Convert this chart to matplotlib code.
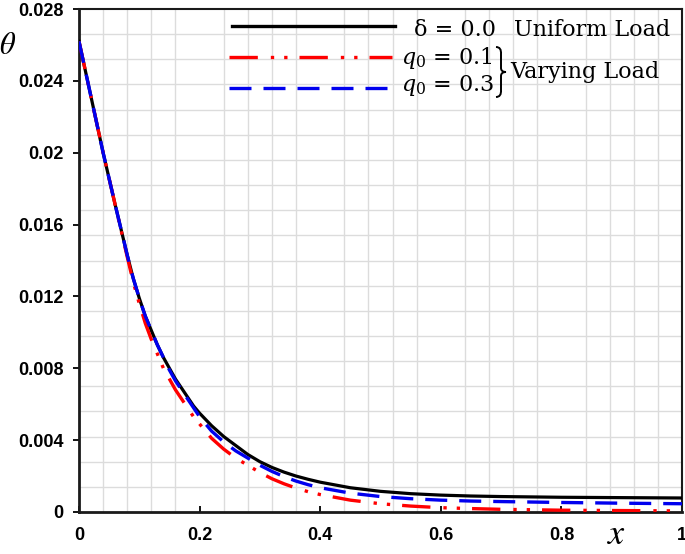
import matplotlib
matplotlib.use("Agg")
import matplotlib.pyplot as plt
from matplotlib.ticker import MultipleLocator, FixedLocator, FixedFormatter
from matplotlib.path import Path
from matplotlib.patches import PathPatch

# ---- data ----
x = [0, 0.02, 0.04, 0.06, 0.08, 0.09, 0.10, 0.11, 0.12, 0.13, 0.14, 0.15,
     0.16, 0.17, 0.18, 0.19, 0.20, 0.22, 0.24, 0.26, 0.28, 0.30, 0.32, 0.34,
     0.36, 0.38, 0.40, 0.45, 0.50, 0.55, 0.60, 0.65, 0.70, 0.80, 0.90, 1.00]
theta_uniform = [0.0262, 0.0231, 0.0200, 0.0171, 0.0143, 0.0130, 0.0119, 0.0109,
                 0.0101, 0.0093, 0.0086, 0.0080, 0.0074, 0.0069, 0.0064, 0.0059,
                 0.0055, 0.0048, 0.0042, 0.0037, 0.0032, 0.0028, 0.00248, 0.00222,
                 0.00200, 0.00182, 0.00166, 0.00135, 0.00115, 0.00102, 0.00094,
                 0.00089, 0.00086, 0.00082, 0.00080, 0.00078]
theta_q01 = [0.0262, 0.0231, 0.0200, 0.0171, 0.0142, 0.0128, 0.0116, 0.0105,
             0.0096, 0.0088, 0.0080, 0.0074, 0.0068, 0.0063, 0.0058, 0.0053,
             0.0049, 0.0041, 0.0035, 0.0030, 0.0026, 0.0022, 0.00185, 0.00157,
             0.00133, 0.00113, 0.00097, 0.00066, 0.00046, 0.00033, 0.00024,
             0.00019, 0.00015, 0.00010, 0.00008, 0.00006]
theta_q03 = [0.0262, 0.0231, 0.0200, 0.0171, 0.0143, 0.0130, 0.0119, 0.0109,
             0.0101, 0.0093, 0.0086, 0.0079, 0.0073, 0.0068, 0.0063, 0.0058,
             0.0053, 0.0045, 0.0039, 0.0034, 0.0030, 0.0026, 0.00226, 0.00197,
             0.00172, 0.00152, 0.00135, 0.00105, 0.00086, 0.00074, 0.00066,
             0.00061, 0.00058, 0.00053, 0.00049, 0.00046]

xticks = [0, 0.2, 0.4, 0.6, 0.8, 1.0]
xticklabels = ["0", "0.2", "0.4", "0.6", "0.8", "1"]
yticks = [0, 0.004, 0.008, 0.012, 0.016, 0.02, 0.024, 0.028]
yticklabels = ["0", "0.004", "0.008", "0.012", "0.016", "0.02", "0.024", "0.028"]

fig = plt.figure(figsize=(6.85, 5.54), dpi=100)
ax = fig.add_axes([79/685, 42/554, 603/685, 503/554])

red_ls = (0, (8.5, 3.9, 1, 3.0, 1, 3.6))
blue_ls = (0, (6.6, 3.6))

ax.plot(x, theta_uniform, color='black', lw=2.3, zorder=3)
ax.plot(x, theta_q01, color='#ff0000', lw=2.4, linestyle=red_ls, zorder=4)
ax.plot(x, theta_q03, color='#0000ee', lw=2.4, linestyle=blue_ls, zorder=5)

ax.set_xlim(0, 1)
ax.set_ylim(0, 0.028)

ax.xaxis.set_major_locator(FixedLocator(xticks))
ax.xaxis.set_major_formatter(FixedFormatter(xticklabels))
ax.yaxis.set_major_locator(FixedLocator(yticks))
ax.yaxis.set_major_formatter(FixedFormatter(yticklabels))
ax.xaxis.set_minor_locator(MultipleLocator(0.04))
ax.yaxis.set_minor_locator(MultipleLocator(0.0014))
ax.grid(which='minor', color='#dcdcdc', lw=1.0, zorder=0)
ax.set_axisbelow(True)

ax.tick_params(axis='x', which='major', direction='in', length=4, width=1.3,
               pad=11, labelsize=13)
ax.tick_params(axis='y', which='major', direction='out', length=4, width=1.3,
               pad=7, labelsize=13)
ax.tick_params(which='minor', length=0)
for lab in ax.get_xticklabels() + ax.get_yticklabels():
    lab.set_fontweight('bold')
    lab.set_family('Liberation Sans')

for s in ax.spines.values():
    s.set_linewidth(1.5)
    s.set_color('#1a1a1a')
ax.spines['left'].set_linewidth(2)
ax.spines['bottom'].set_linewidth(2)

# axis labels
fig.text(8/685, 1 - 45/554, r'$\theta$', fontsize=22, ha='center', va='center',
         math_fontfamily='stix')
fig.text(617/685, 1 - 544/554, r'$x$', fontsize=26, ha='center', va='baseline',
         math_fontfamily='stix')

# ---- custom legend ----
tA = ax.transAxes
def fx(px):
    return (px - 79) / 603
def fy(py):
    return (512 - py) / 503

ax.plot([fx(232), fx(395)], [fy(26), fy(26)], color='black', lw=2.4,
        transform=tA, clip_on=False, zorder=6)
ax.plot([fx(229), fx(392)], [fy(57), fy(57)], color='#ff0000', lw=2.4,
        linestyle=red_ls, transform=tA, clip_on=False, zorder=6)
ax.plot([fx(229), fx(394)], [fy(88), fy(88)], color='#0000ee', lw=2.4,
        linestyle=blue_ls, transform=tA, clip_on=False, zorder=6)

lf = dict(fontsize=16, family='DejaVu Serif', transform=tA, va='center',
          ha='left', zorder=7, math_fontfamily='dejavuserif')
ax.text(fx(414), fy(30), 'δ = 0.0', **lf)
ax.text(fx(514), fy(30), 'Uniform Load', **lf)
ax.text(fx(401), fy(58), r'$q_0$ = 0.1', **lf)
ax.text(fx(401), fy(85), r'$q_0$ = 0.3', **lf)
ax.text(fx(510), fy(72), 'Varying Load', **lf)

# curly brace
cx, cy = 496, 72
h, w = 25, 10
pts = [(cx, cy - h), (cx + w * 0.55, cy - h), (cx + w * 0.5, cy - h + 7),
       (cx + w * 0.5, cy - 4), (cx + w * 0.5, cy), (cx + w, cy),
       (cx + w * 0.5, cy), (cx + w * 0.5, cy + 4),
       (cx + w * 0.5, cy + h - 7), (cx + w * 0.55, cy + h), (cx, cy + h)]
codes = [Path.MOVETO, Path.CURVE3, Path.CURVE3, Path.LINETO, Path.CURVE3,
         Path.CURVE3, Path.CURVE3, Path.CURVE3, Path.LINETO, Path.CURVE3,
         Path.CURVE3]
verts = [(fx(px), fy(py)) for px, py in pts]
ax.add_patch(PathPatch(Path(verts, codes), fill=False, lw=1.4, color='black',
                       transform=tA, clip_on=False, zorder=7))

fig.savefig('out.png', dpi=100)
